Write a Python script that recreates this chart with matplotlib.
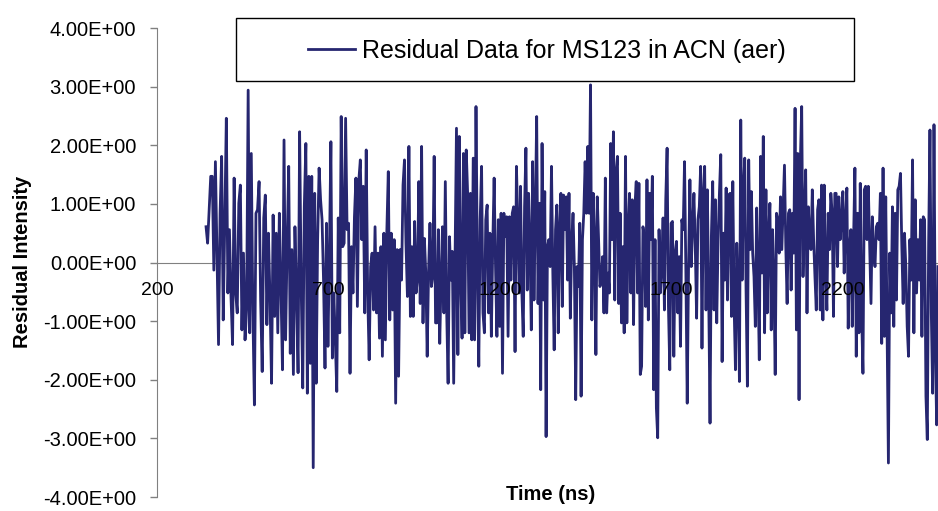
import numpy as np
import matplotlib.pyplot as plt
from matplotlib.ticker import FuncFormatter
from matplotlib.patches import Rectangle

plt.rcParams['font.family'] = ['Liberation Sans', 'DejaVu Sans']

# time (ns) bounding each stretch of residuals
edges_ns = [343, 634, 943, 1252, 1562, 1871, 2180, 2477]

res_1 = [0.61, 0.33, 0.90, 1.47, 1.47, -0.13, 1.72, 0.20, -1.40, 0.84, 1.81, -0.98, 0.67, 2.46,
         -0.52, 0.56, -0.58, -1.40, 1.44, -0.52, -0.86, 1.01, 1.32, -1.15, 0.16, -1.32, -0.81,
         2.94, -1.20, 1.86, -0.81, -2.43, 0.84, 0.90, 1.38, -0.64, -1.86, 0.76, 1.15, -1.06,
         0.50, -0.60, -2.06, 0.81, -0.92, 0.50, -1.20, 0.84, -0.40, -1.83, 2.09, -1.32, 0.30,
         1.64, -1.55, 0.22, -1.91, 0.61, -0.50, -1.88, 2.23, -0.41, -2.14, 0.95]
res_2 = [2.03, -2.23, 1.47, -1.72, 1.47, -3.50, 1.18, -2.06, 0.39, 1.61, 1.07, 0.73, -0.30,
         -1.80, 0.67, -1.43, 0.16, 2.06, -1.63, -0.52, -1.32, -2.20, 0.76, -1.20, 2.49, 0.27,
         0.33, 2.46, 0.56, 0.67, -1.89, 0.27, -0.52, 0.78, 1.44, -0.75, 1.41, 1.75, 0.39, 1.30,
         -0.86, 1.92, -0.52, -1.66, -0.07, 0.16, -0.81, 0.61, -0.86, 0.16, -1.29, 0.27, -1.60,
         0.50, -1.32, 0.53, 1.55, -0.98, 0.50, -0.81, 0.39, -2.40, 0.22, -1.94, 0.22, -0.30,
         1.32, 1.75, 0.33, -0.58, 1.98, -0.92]
res_3 = [0.27, -0.92, 0.70, -0.52, -0.30, 1.38, -0.70, 1.98, -1.03, 0.41, -0.18, -1.60, -0.13,
         0.67, -0.41, -0.24, 1.81, -1.03, -1.03, 0.56, -1.38, -0.24, 0.61, -0.86, 1.38, -0.86,
         -2.06, 0.44, -0.30, 0.19, -2.06, 0.16, 2.29, -1.57, 2.15, -0.24, -1.29, 1.86, -1.20,
         1.92, 1.18, -1.20, 1.18, -1.32, 1.78, -1.32, 2.66, -0.07, -1.77, 0.73, 1.64, -0.86,
         -1.20, 0.73, 0.98, -0.86, 0.50, -1.26, 0.27, 1.44, -0.07, -1.26, 0.73, -1.09, 0.84,
         -1.89, 0.84, 0.44, 0.78, -1.26, 0.78, -0.30, 0.84, 0.95, -1.52, 1.64]
res_4 = [0.67, -0.52, 1.30, -0.52, -1.26, 0.95, 1.95, -0.47, 1.18, 0.27, -1.15, 1.72, -0.64,
         0.84, 2.49, -0.70, 1.01, -2.17, 2.03, -0.64, 1.21, -2.97, 0.27, 0.39, -0.07, 1.64,
         -0.18, -1.49, 0.56, 0.98, -1.20, 0.56, 1.18, -0.75, 1.15, 0.56, 1.12, -0.30, 1.18,
         -0.95, 0.33, 0.84, -0.07, -2.34, -0.07, -0.41, 0.67, -2.28, 0.39, 0.84, 1.72, 0.84,
         1.98, 0.84, 3.03, -0.98, 1.18, 0.39, -1.57, 1.12, 0.39, -0.41, -0.30, 0.10, -0.86,
         1.44, -0.86, -0.18, -0.52, 2.03, 0.39, 2.23, -0.64, 1.55, 1.81, -0.70, 0.84, -1.03, 0.27]
res_5 = [-1.20, 1.81, -1.03, 0.56, 1.18, -0.52, 1.07, -1.06, 0.95, 1.38, -0.52, 1.35, -1.91,
         -1.77, 0.61, 0.44, -0.75, 1.41, -0.98, 1.18, 0.39, 1.47, -2.17, 0.39, -2.48, -2.99,
         0.56, -0.52, -0.07, 0.76, -0.81, 1.07, 1.95, -0.75, -1.83, 0.67, 0.70, -1.60, 0.16,
         0.36, -0.86, 0.10, -1.43, 0.73, 0.56, 1.72, -0.18, -2.40, -0.07, 1.41, -0.07, 0.61,
         1.18, 0.27, -0.95, 0.73, 0.95, 1.64, -1.46, 1.18, 1.64, -0.81, 1.24, -0.52, -2.74,
         0.44, 1.38, -0.81, 1.07, -1.03, 0.39, 1.18, 1.84, -1.69, 0.50, -0.30, 1.27, -0.64, 1.15]
res_6 = [1.18, -0.92, 1.38, -0.75, -1.83, 0.33, -0.41, -2.03, 2.43, -0.30, 1.24, 1.78, -0.47,
         -2.11, 1.75, 0.22, 1.21, 0.16, -0.24, -1.09, 0.93, -0.30, -1.66, 1.81, -0.18, 2.15,
         -1.20, 1.24, -0.86, 0.50, 1.01, -1.15, 0.56, -0.30, -1.91, 0.84, 0.73, 0.16, 1.12,
         0.22, 0.95, 1.66, 0.27, -0.70, 0.84, 0.90, -0.47, 0.84, 0.16, 2.63, -1.15, 1.86, -2.34,
         1.75, 2.66, -0.24, 0.73, 1.58, -0.86, 0.95, 0.44, 0.22, 1.24, 0.39, -0.24, -0.81, 0.90,
         1.07, -0.81, 1.32, -0.98, 1.32, -0.07, -0.81, 0.84, 0.22, 1.18, 0.84, -0.92, 1.18]
res_7 = [1.18, -0.07, 1.12, 0.39, 0.73, 1.21, -0.18, 0.73, 1.27, -1.12, 0.27, 0.56, -1.09, 0.39,
         1.61, -1.60, 0.84, -1.20, 1.35, -0.86, -1.89, 1.24, 1.30, 0.39, 1.30, 0.27, -0.70, 0.78,
         0.16, -0.07, 0.61, 0.67, 0.39, 1.18, -1.38, 1.61, -1.26, 1.12, -1.15, -3.42, 0.16,
         -0.86, 0.95, -1.09, 0.84, -0.64, 1.24, 1.30, 1.52, 0.27, -0.70, 0.50, -0.07, -1.09,
         -1.60, 0.39, -0.30, 1.75, -1.20, 1.07, -0.52, 0.39, -0.30, 0.73, -1.26, 0.78, 0.73,
         -2.28, -3.02, 0.33, 2.26, -0.86, -2.23, 2.35, -1.43, -2.77, -0.07]

x_ticks = [200, 700, 1200, 1700, 2200]
y_ticks = [-4, -3, -2, -1, 0, 1, 2, 3, 4]
series_name = 'Residual Data for MS123 in ACN (aer)'

strips = [res_1, res_2, res_3, res_4, res_5, res_6, res_7]
time = np.concatenate([np.linspace(edges_ns[i], edges_ns[i + 1], len(s),
                                   endpoint=(i == len(strips) - 1))
                       for i, s in enumerate(strips)])
resid = np.concatenate(strips)

W, H = 938, 511
fig = plt.figure(figsize=(W / 100, H / 100), dpi=100)
ax = fig.add_axes([157 / W, 1 - 497 / H, (W - 157) / W, (497 - 28) / H])

line, = ax.plot(time, resid, color='#262670', lw=2.0, label=series_name, zorder=2)

ax.set_xlim(200, 200 + (W - 157) / 0.343)
ax.set_ylim(-4, 4)
ax.set_xticks(x_ticks)
ax.set_yticks(y_ticks)
ax.yaxis.set_major_formatter(FuncFormatter(lambda v, p: '%.2E' % v))
ax.set_axisbelow(False)   # tick labels sit over the trace, as in the original

for s in ['top', 'right']:
    ax.spines[s].set_visible(False)
ax.spines['bottom'].set_position(('data', 0))
ax.spines['bottom'].set_color('#808080')
ax.spines['left'].set_color('#808080')
ax.spines['bottom'].set_zorder(1)

ax.tick_params(axis='x', length=0, pad=14, labelsize=14)
ax.tick_params(axis='y', length=5, width=1, color='#808080', pad=10, labelsize=14.5)

# legend with its own box
ax.legend(handles=[line], loc='center', bbox_to_anchor=(547 / W, 1 - 51 / H),
          bbox_transform=fig.transFigure, frameon=False, fontsize=18,
          handlelength=1.9, handletextpad=0.28)
fig.add_artist(Rectangle((236 / W, 1 - 81 / H), (854 - 236) / W, (81 - 18) / H,
                         transform=fig.transFigure, fill=False, edgecolor='black', lw=1))

fig.text(551 / W, 1 - 494 / H, 'Time (ns)', ha='center', va='center',
         fontweight='bold', fontsize=14.5)
fig.text(23 / W, 1 - 262 / H, 'Residual Intensity', ha='center', va='center',
         rotation=90, fontweight='bold', fontsize=14.5)

fig.savefig('out.png', dpi=100)
